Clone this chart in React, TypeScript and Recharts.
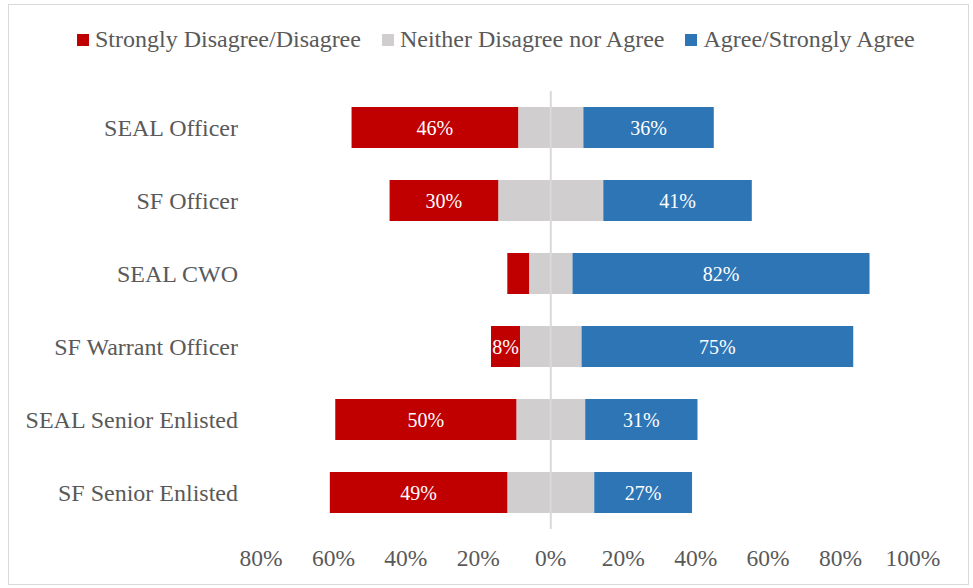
import { BarChart, Bar, XAxis, YAxis, ReferenceLine, LabelList } from "recharts";

const groups = [
  "SEAL Officer",
  "SF Officer",
  "SEAL CWO",
  "SF Warrant Officer",
  "SEAL Senior Enlisted",
  "SF Senior Enlisted",
];
const disagree = [46, 30, 6, 8, 50, 49];
const neutral = [18, 29, 12, 17, 19, 24];
const agree = [36, 41, 82, 75, 31, 27];
const xTicks = [-80, -60, -40, -20, 0, 20, 40, 60, 80, 100];

const RED = "#C00000";
const GREY = "#D0CECE";
const BLUE = "#2E75B6";
const TEXT = "#595959";
const FONT = '"Liberation Serif", "Times New Roman", serif';

// neutral share is split in half around zero
const rows = groups.map((name, i) => ({
  name,
  neutralLeft: -neutral[i] / 2,
  disagree: -disagree[i],
  neutralRight: neutral[i] / 2,
  agree: agree[i],
}));

const legendItems = [
  { label: "Strongly Disagree/Disagree", color: RED },
  { label: "Neither Disagree nor Agree", color: GREY },
  { label: "Agree/Strongly Agree", color: BLUE },
];

function LegendRow() {
  return (
    <div style={{ position: "absolute", left: 77, top: 26, display: "flex", alignItems: "center", fontFamily: FONT, fontSize: 24, color: TEXT, whiteSpace: "nowrap" }}>
      {legendItems.map((it) => (
        <div key={it.label} style={{ display: "flex", alignItems: "center", marginRight: 21 }}>
          <span style={{ width: 12, height: 12, background: it.color, display: "inline-block", marginRight: 6 }} />
          <span>{it.label}</span>
        </div>
      ))}
    </div>
  );
}

function BarLabel(props: any) {
  const { x, y, width, height, value } = props;
  if (Math.abs(width) < 26) return null;
  return (
    <text
      x={x + width / 2}
      y={y + height / 2}
      textAnchor="middle"
      dominantBaseline="central"
      fill="#fff"
      fontFamily={FONT}
      fontSize={20}
    >
      {Math.round(Math.abs(value))}%
    </text>
  );
}

export default function App() {
  return (
    <div style={{ position: "absolute", left: 0, top: 0, width: 973, height: 588, background: "#fff" }}>
      <div style={{ position: "absolute", left: 8, top: 4, width: 959, height: 579, border: "1.5px solid #D9D9D9" }} />
      <div style={{ position: "absolute", left: 0, top: 0 }}>
        <BarChart
          width={973}
          height={588}
          data={rows}
          layout="vertical"
          stackOffset="sign"
          barSize={41}
          margin={{ top: 91, right: 60, bottom: 19, left: 21 }}
        >
          <XAxis
            type="number"
            domain={[-80, 100]}
            ticks={xTicks}
            tickFormatter={(v: number) => `${Math.abs(v)}%`}
            axisLine={false}
            tickLine={false}
            tickSize={0}
            tickMargin={20}
            height={40}
            tick={{ fill: TEXT, fontSize: 23.5, fontFamily: FONT }}
          />
          <YAxis
            type="category"
            dataKey="name"
            width={240}
            axisLine={false}
            tickLine={false}
            tickSize={0}
            tickMargin={23}
            tick={{ fill: TEXT, fontSize: 24, fontFamily: FONT }}
          />
          <Bar dataKey="neutralLeft" stackId="s" fill={GREY} isAnimationActive={false} />
          <Bar dataKey="disagree" stackId="s" fill={RED} isAnimationActive={false}>
            <LabelList dataKey="disagree" content={BarLabel} />
          </Bar>
          <Bar dataKey="neutralRight" stackId="s" fill={GREY} isAnimationActive={false} />
          <Bar dataKey="agree" stackId="s" fill={BLUE} isAnimationActive={false}>
            <LabelList dataKey="agree" content={BarLabel} />
          </Bar>
          <ReferenceLine x={0} stroke="#D9D9D9" strokeWidth={2} />
        </BarChart>
      </div>
      <LegendRow />
    </div>
  );
}
